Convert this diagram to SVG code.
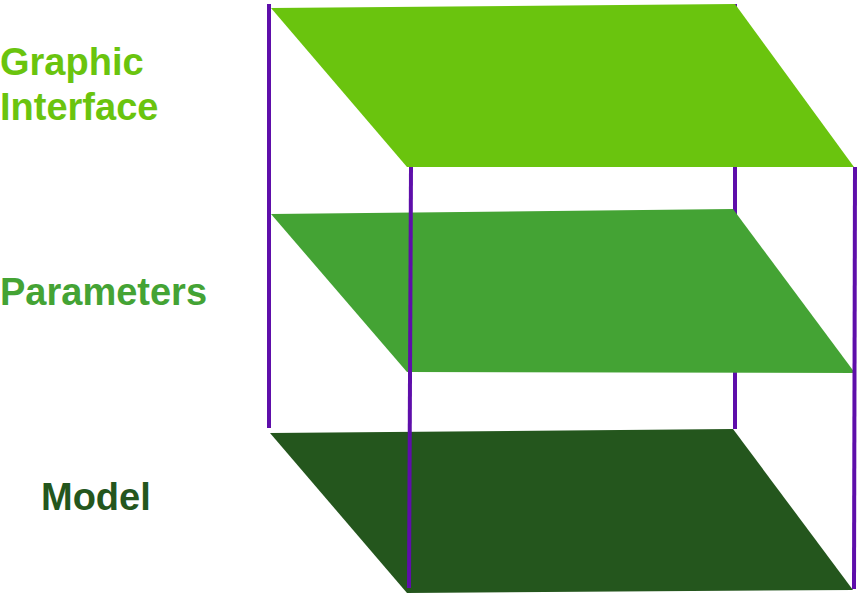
<svg xmlns="http://www.w3.org/2000/svg" width="860" height="594" viewBox="0 0 860 594">
<style>
.post{stroke:#5E0EAA;stroke-width:4;fill:none;stroke-linecap:butt}
.lbl{font-family:"Liberation Sans",Arial,sans-serif;font-weight:bold;font-size:38px}
</style>
<rect width="860" height="594" fill="#ffffff"/>
<g id="connectors-back">
<line class="post" x1="735" y1="4" x2="735" y2="429"/>
<line class="post" x1="269" y1="4" x2="269" y2="428"/>
</g>
<g id="model">
<polygon points="270,433 733,429 853,590 407,593" fill="#24561D"/>
<text class="lbl" x="41" y="510" fill="#24561D">Model</text>
</g>
<g id="parameters">
<polygon points="271,214 733,209 855,373 407,372" fill="#44A334"/>
<text class="lbl" x="0" y="305" fill="#44A334">Parameters</text>
</g>
<g id="graphic-interface">
<polygon points="271,8 735,4 854,167 407,167" fill="#6AC40E"/>
<text class="lbl" fill="#6AC40E"><tspan x="0" y="75">Graphic</tspan><tspan x="0" y="120">Interface</tspan></text>
</g>
<g id="connectors">
<line class="post" x1="411" y1="167" x2="409" y2="588"/>
<line class="post" x1="855" y1="167" x2="854" y2="589"/>
</g>
</svg>
